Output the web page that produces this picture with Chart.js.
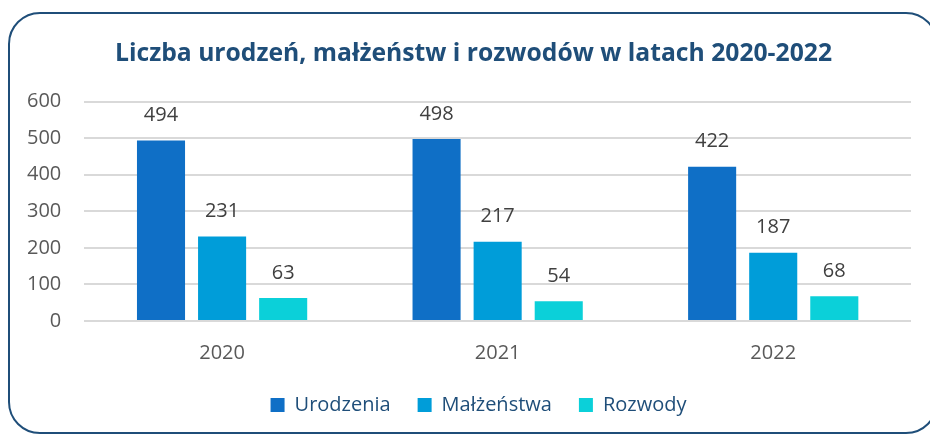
<!DOCTYPE html>
<html>
<head>
<meta charset="utf-8">
<script src="https://cdn.jsdelivr.net/npm/chart.js@4.4.0/dist/chart.umd.min.js"></script>
<style>
	html, body { margin: 0; padding: 0; background: #fff; }
	#wrap { position: relative; width: 930px; height: 436px; overflow: hidden; }
	#frame {
		position: absolute; left: 8px; top: 12px; width: 930px; height: 422px;
		border: 2px solid #1F4E79; border-radius: 32px; box-sizing: border-box;
	}
	canvas { position: absolute; left: 0; top: 0; }
</style>
</head>
<body>
<div id="wrap">
	<div id="frame"></div>
	<canvas id="chart" width="930" height="436"></canvas>
</div>
<script>
const years = ['2020', '2021', '2022'];
const urodzenia = [494, 498, 422];
const malzenstwa = [231, 217, 187];
const rozwody = [63, 54, 68];
const seriesNames = ['Urodzenia', 'Małżeństwa', 'Rozwody'];

// etykiety nad słupkami + przesunięcie tytułu i legendy
const barLabels = {
	id: 'barLabels',
	afterLayout(chart) {
		chart.titleBlock.left += 16;
		chart.titleBlock.right += 16;
		chart.legend.left += 21;
		chart.legend.right += 21;
	},
	afterDatasetsDraw(chart) {
		const ctx = chart.ctx;
		ctx.save();
		ctx.font = '20px "Open Sans"';
		ctx.fillStyle = '#404040';
		ctx.textAlign = 'center';
		ctx.textBaseline = 'bottom';
		chart.data.datasets.forEach((ds, i) => {
			chart.getDatasetMeta(i).data.forEach((bar, j) => {
				ctx.fillText(ds.data[j], bar.x, bar.y - 15);
			});
		});
		ctx.restore();
	}
};

new Chart(document.getElementById('chart'), {
	type: 'bar',
	data: {
		labels: years,
		datasets: [{
				label: seriesNames[0],
				data: urodzenia,
				backgroundColor: '#0F6FC6'
			},
			{
				label: seriesNames[1],
				data: malzenstwa,
				backgroundColor: '#009DD9'
			},
			{
				label: seriesNames[2],
				data: rozwody,
				backgroundColor: '#0BD0D9'
			}
		]
	},
	options: {
		responsive: false,
		animation: false,
		categoryPercentage: 0.665,
		barPercentage: 0.787,
		layout: {
			padding: { left: 4, right: 19, top: 0, bottom: 11 }
		},
		scales: {
			x: {
				grid: { display: false },
				border: { display: false },
				ticks: { color: '#595959', font: { family: 'Open Sans', size: 20 }, padding: 12 },
				afterFit(scale) { scale.height -= 9; }
			},
			y: {
				min: 0,
				max: 600,
				ticks: { stepSize: 100, color: '#595959', font: { family: 'Open Sans', size: 20 }, padding: 23 },
				grid: { color: '#D9D9D9', lineWidth: 2, drawTicks: false },
				border: { display: false }
			}
		},
		plugins: {
			title: {
				display: true,
				text: 'Liczba urodzeń, małżeństw i rozwodów w latach 2020-2022',
				color: '#1F4E79',
				font: { family: 'Open Sans', size: 24.7, weight: 'bold' },
				padding: { top: 39, bottom: 33 }
			},
			legend: {
				position: 'bottom',
				labels: {
					color: '#1F4E79',
					font: { family: 'Open Sans', size: 20 },
					boxWidth: 14,
					boxHeight: 14,
					padding: 27
				}
			},
			tooltip: { enabled: false }
		}
	},
	plugins: [barLabels]
});
</script>
</body>
</html>
